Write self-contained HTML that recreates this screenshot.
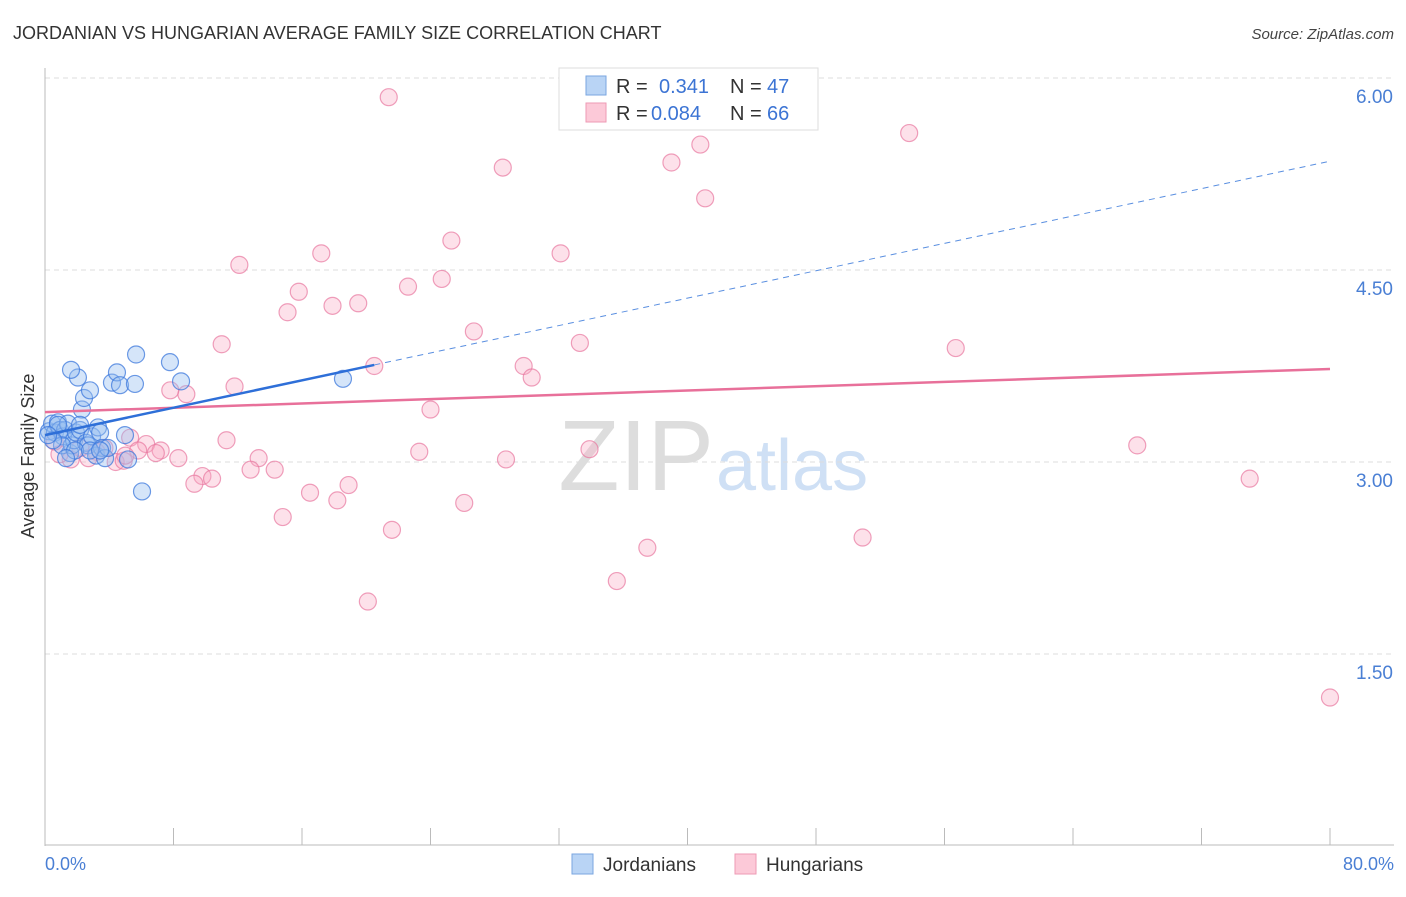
<!DOCTYPE html>
<html><head><meta charset="utf-8"><style>
body{margin:0;background:#fff;font-family:"Liberation Sans",sans-serif;}
svg text{font-family:"Liberation Sans",sans-serif;}
</style></head><body>
<svg id="chart" width="1406" height="892" xmlns="http://www.w3.org/2000/svg">
<text x="13" y="39" font-size="18" fill="#333">JORDANIAN VS HUNGARIAN AVERAGE FAMILY SIZE CORRELATION CHART</text>
<text x="1394" y="39" font-size="15" fill="#444" text-anchor="end" font-style="italic">Source: ZipAtlas.com</text>
<text x="714" y="490" font-size="100" fill="#ddd" text-anchor="end" font-family="Liberation Serif">ZIP</text>
<text x="716" y="490" font-size="72" fill="#cfe0f5">atlas</text>
<g id="grid"></g>
<line x1="45" y1="68" x2="45" y2="846" stroke="#bbb"/>
<line x1="45" y1="845" x2="1394" y2="845" stroke="#bbb"/>
<g id="ticks"></g>
<text transform="translate(34,456) rotate(-90)" font-size="18" fill="#333" text-anchor="middle">Average Family Size</text>
<text x="45" y="870" font-size="18" fill="#4a7fd4">0.0%</text>
<text x="1394" y="870" font-size="18" fill="#4a7fd4" text-anchor="end">80.0%</text>
<g id="marks"></g>
<g id="lines"></g>
<g>
<rect x="559" y="68" width="259" height="62" fill="#fff" stroke="#ddd"/>
<rect x="586" y="76" width="20" height="19" fill="#b9d4f5" stroke="#7aa6e0"/>
<rect x="586" y="103" width="20" height="19" fill="#fcc9d8" stroke="#ee9ab4"/>
<text x="616" y="93" font-size="20" fill="#333">R = </text><text x="659" y="93" font-size="20" fill="#3c74d4">0.341</text>
<text x="730" y="93" font-size="20" fill="#333">N = </text><text x="767" y="93" font-size="20" fill="#3c74d4">47</text>
<text x="616" y="120" font-size="20" fill="#333">R = </text><text x="651" y="120" font-size="20" fill="#3c74d4">0.084</text>
<text x="730" y="120" font-size="20" fill="#333">N = </text><text x="767" y="120" font-size="20" fill="#3c74d4">66</text>
</g>
<g><rect x="572" y="854" width="21" height="20" fill="#b9d4f5" stroke="#7aa6e0"/><text x="603" y="871" font-size="19" fill="#333">Jordanians</text></g>
<g><rect x="735" y="854" width="21" height="20" fill="#fcc9d8" stroke="#ee9ab4"/><text x="766" y="871" font-size="19" fill="#333">Hungarians</text></g>
</svg>
<script>
const yTicks=[1.5,3.0,4.5,6.0];
const yTickLabels=["1.50","3.00","4.50","6.00"];
const blueX=[0.25,0.44,0.62,0.81,0.93,1.12,1.25,1.43,1.56,1.68,1.81,1.93,2.05,2.18,2.30,2.43,2.55,2.68,2.80,2.93,3.18,3.30,3.43,3.55,3.74,3.92,4.17,4.48,4.67,4.98,5.17,5.60,5.67,6.04,7.78,8.47,18.55,1.62,1.06,1.87,0.50,1.31,2.80,3.43,0.81,0.19,2.18];
const blueY=[3.24,3.30,3.23,3.31,3.25,3.20,3.25,3.30,3.07,3.13,3.17,3.23,3.66,3.25,3.41,3.50,3.15,3.13,3.56,3.20,3.05,3.27,3.23,3.11,3.03,3.11,3.62,3.70,3.60,3.21,3.02,3.61,3.84,2.77,3.78,3.63,3.65,3.72,3.13,3.09,3.17,3.03,3.09,3.09,3.29,3.21,3.29];
const pinkX=[21.4,28.5,39.0,40.8,53.8,41.1,25.3,32.1,12.1,17.2,15.8,15.1,17.9,19.5,22.6,24.7,26.7,11.0,33.3,56.7,20.5,29.8,30.3,11.8,8.8,7.8,24.0,11.3,5.3,6.3,7.2,6.9,8.3,5.8,4.4,4.9,3.7,3.2,2.7,1.6,0.9,0.6,13.3,12.8,14.3,23.3,28.7,33.9,68.0,75.0,9.8,10.4,9.3,18.9,16.5,18.2,26.1,14.8,21.6,37.5,50.9,35.6,20.1,80.0,2.2,5.0];
const pinkY=[5.85,5.30,5.34,5.48,5.57,5.06,4.73,4.63,4.54,4.63,4.33,4.17,4.22,4.24,4.37,4.43,4.02,3.92,3.93,3.89,3.75,3.75,3.66,3.59,3.53,3.56,3.41,3.17,3.19,3.14,3.09,3.07,3.03,3.09,3.00,3.01,3.11,3.08,3.03,3.02,3.06,3.16,3.03,2.94,2.94,3.08,3.02,3.10,3.13,2.87,2.89,2.87,2.83,2.82,2.76,2.70,2.68,2.57,2.47,2.33,2.41,2.07,1.91,1.16,3.11,3.05];
const blueTrend=[3.21,5.35];
const pinkTrend=[3.39,3.727];
const blueSolidEnd=20.5;
const NS="http://www.w3.org/2000/svg";
const xs=v=>45+v*16.0625, ys=v=>846-v*128;
function mk(t,a,p){const e=document.createElementNS(NS,t);for(const k in a)e.setAttribute(k,a[k]);p.appendChild(e);return e;}
const grid=document.getElementById('grid'),ticks=document.getElementById('ticks'),marks=document.getElementById('marks'),lines=document.getElementById('lines');
yTicks.forEach((t,i)=>{
 const l=mk('line',{x1:45,x2:1394,y1:ys(t),y2:ys(t),stroke:'#ddd','stroke-dasharray':'5,4'},grid);
 
 
 const tx=mk('text',{x:1393,y:ys(t)+25,'font-size':19,fill:'#4a7fd4','text-anchor':'end'},ticks);
 tx.textContent=yTickLabels[i];
 
 
});
for(let i=0;i<=10;i++){
 const l=mk('line',{x1:xs(i*8),x2:xs(i*8),y1:828,y2:845,stroke:'#bbb'},ticks);
 
 
}
pinkX.forEach((x,i)=>{
 const c=mk('circle',{cx:xs(x),cy:ys(pinkY[i]),r:8.5,fill:'rgba(248,170,195,0.35)',stroke:'rgba(232,120,160,0.7)','stroke-width':1.2},marks);
 
 
});
blueX.forEach((x,i)=>{
 const c=mk('circle',{cx:xs(x),cy:ys(blueY[i]),r:8.5,fill:'rgba(150,190,240,0.4)',stroke:'rgba(60,120,220,0.75)','stroke-width':1.2},marks);
 
 
});
const by=x=>blueTrend[0]+(blueTrend[1]-blueTrend[0])*x/80;
let l=mk('line',{x1:xs(0),y1:ys(pinkTrend[0]),x2:xs(80),y2:ys(pinkTrend[1]),stroke:'#e8709a','stroke-width':2.5},lines);


l=mk('line',{x1:xs(0),y1:ys(by(0)),x2:xs(blueSolidEnd),y2:ys(by(blueSolidEnd)),stroke:'#2e6fd8','stroke-width':2.5},lines);


l=mk('line',{x1:xs(blueSolidEnd),y1:ys(by(blueSolidEnd)),x2:xs(80),y2:ys(by(80)),stroke:'#5a8fe0','stroke-width':1,'stroke-dasharray':'6,5'},lines);


</script>
</body></html>
